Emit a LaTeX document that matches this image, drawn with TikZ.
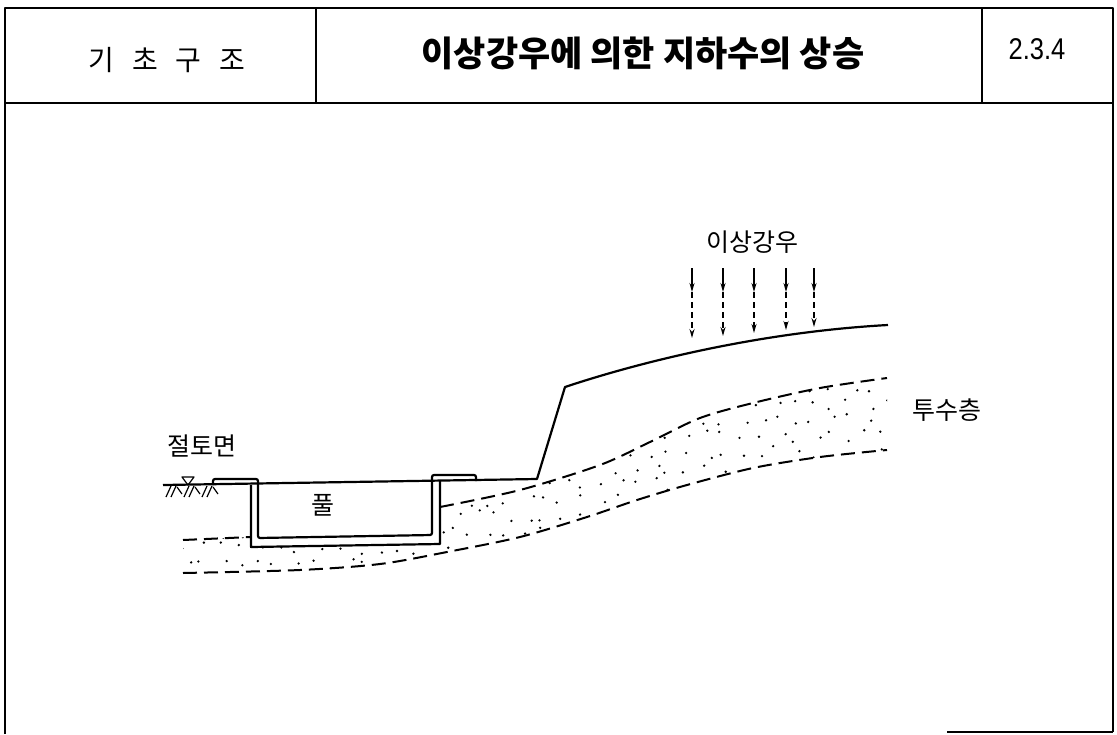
\documentclass[tikz,border=0pt]{standalone}
\usepackage{fontspec}
\setmainfont{Liberation Sans}
\newfontfamily\kr{Noto Sans CJK KR}
\usetikzlibrary{arrows.meta}

\begin{document}
\begin{tikzpicture}[x=1pt,y=-1pt,line join=round]
\tikzset{
  frameline/.style={line width=2.2pt},
  solidline/.style={line width=2.2pt},
  layerline/.style={line width=2pt,dash pattern=on 14pt off 7pt},
  rainhead/.style={-{Stealth[length=9pt,width=5pt]},line width=1.3pt},
  krtext/.style={font=\kr\fontsize{25}{25}\selectfont,inner sep=0pt},
}
\useasboundingbox (0,0) rectangle (1117,734);

% title block frame
\draw[frameline] (5,734) -- (5,8) -- (1113,8) -- (1113,732);
\draw[frameline] (5,103) -- (1113,103);
\draw[frameline] (316,8) -- (316,103);
\draw[frameline] (982,8) -- (982,103);
\draw[frameline] (947,732) -- (1113,732);

% title block texts
\node[font=\kr\fontsize{28}{28}\selectfont,inner sep=0pt] (cat) at (167,60)
  {기\hspace{18pt}초\hspace{18pt}구\hspace{18pt}조};
\node[font=\kr\bfseries\fontsize{35}{35}\selectfont,inner sep=0pt] (title) at (643,53)
  {이상강우에 의한 지하수의 상승};
\node[font=\fontsize{30}{30}\selectfont,inner sep=0pt] (num) at (1037,49)
  {\scalebox{0.85}[1]{2.3.4}};

% stippling of the permeable layer
\begin{scope}
  \clip (183,540) -- (251,537) -- (251,547) -- (440,544) -- (440,507)
    -- plot[smooth] coordinates {(440,507) (520,490) (600,465) (650,442) (700,418) (753,403) (820,388) (887,378)}
    -- (887,450)
    -- plot[smooth] coordinates {(887,450) (820,457) (753,468) (687,485) (637,500) (587,517) (520,537) (447,552) (380,564) (300,570) (183,573)}
    -- cycle;
  \pgfmathsetseed{12}
  \foreach \i in {0,...,40} {
    \foreach \j in {0,...,13} {
      \pgfmathsetmacro\px{185+\i*18+7*rand}
      \pgfmathsetmacro\py{372+\j*16+6*rand}
      \fill (\px,\py) circle (1.3pt);
    }
  }
\end{scope}

% permeable layer boundaries
\draw[layerline] (183,540) -- (251,537);
\draw[layerline] plot[smooth] coordinates {(440,507) (520,490) (600,465) (650,442) (700,418) (753,403) (820,388) (887,378)};
\draw[layerline] plot[smooth] coordinates {(183,573) (300,570) (380,564) (447,552) (520,537) (587,517) (637,500) (687,485) (753,468) (820,457) (887,450)};

% ground surface, cut slope and upper ground
\draw[solidline] (163,485) -- (537,479) -- (565,387)
  .. controls (640,362) and (760,332) .. (888,325);

% pool: copings, inner and outer walls
\draw[solidline,rounded corners=2pt] (213,485) -- (213,479) -- (258,479) -- (258,538)
  -- (432,535) -- (432,475) -- (476,475) -- (476,481);
\draw[solidline] (251,485) -- (251,547) -- (440,544) -- (440,481);

% ground hatching and level mark at the cut face
\foreach \x in {166,184,202} {
  \draw[line width=1.2pt] (\x+5,486) -- (\x,497);
  \draw[line width=1.2pt] (\x+10,486) -- (\x+5,497);
  \draw[line width=1.2pt] (\x+11,487) -- (\x+16,494);
}
\draw[line width=1.2pt] (182,477) -- (194,477) -- (188,485) -- cycle;

% heavy rainfall arrows
\foreach \x/\b in {692/338,723/336,754/333,786/330,814/327} {
  \draw[rainhead] (\x,268) -- (\x,292);
  \draw[rainhead,dash pattern=on 6pt off 4pt] (\x,292) -- (\x,\b);
}

% labels
\node[krtext] (rain) at (752,242) {이상강우};
\node[krtext] (cut) at (202,446) {절토면};
\node[krtext] (pool) at (323,505) {풀};
\node[krtext] (perm) at (947,410) {투수층};
\end{tikzpicture}
\end{document}
